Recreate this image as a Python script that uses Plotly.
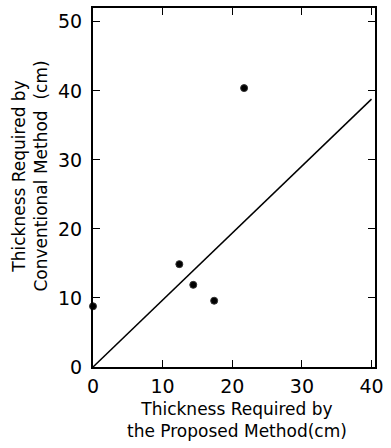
import plotly.graph_objects as go

# Data points (Proposed, Conventional)
proposed = [0, 12.4, 14.4, 17.4, 21.7]
conventional = [8.8, 14.9, 11.9, 9.6, 40.4]

# Reference line
line_x = [0, 40]
line_y = [0, 38.8]

x_ticks = [0, 10, 20, 30, 40]
y_ticks = [0, 10, 20, 30, 40, 50]

fig = go.Figure()
fig.add_trace(go.Scatter(x=line_x, y=line_y, mode="lines",
                         line=dict(color="black", width=1.5), showlegend=False,
                         cliponaxis=False))
fig.add_trace(go.Scatter(x=proposed, y=conventional, mode="markers",
                         marker=dict(color="black", size=7,
                                     line=dict(color="#333", width=1)),
                         showlegend=False, cliponaxis=False))

font = "DejaVu Sans"
fig.update_layout(
    width=391, height=448,
    margin=dict(l=93, r=16, t=6, b=81),
    paper_bgcolor="white", plot_bgcolor="white",
    font=dict(family=font, color="black"),
    xaxis=dict(range=[0, 40.5], tickvals=x_ticks, ticks="inside", ticklen=7,
               tickwidth=1.2, tickcolor="black", showgrid=False, zeroline=False,
               showline=True, linecolor="black", linewidth=2, mirror="ticks",
               tickfont=dict(size=19, family=font), ticklabelstandoff=1),
    yaxis=dict(range=[0, 52], tickvals=y_ticks, ticks="inside", ticklen=7,
               tickwidth=1.2, tickcolor="black", showgrid=False, zeroline=False,
               showline=True, linecolor="black", linewidth=2, mirror="ticks",
               tickfont=dict(size=19, family=font), ticklabelstandoff=5),
    annotations=[
        dict(text="Thickness Required by<br>the Proposed Method(cm)",
             xref="paper", yref="paper", x=0.51, y=-0.083, xanchor="center",
             yanchor="top", showarrow=False, font=dict(size=17, family=font),
             align="center"),
        dict(text="Thickness Required by<br>Conventional Method  (cm)",
             xref="paper", yref="paper", x=-0.225, y=0.532, xanchor="center",
             yanchor="middle", showarrow=False, textangle=-90,
             font=dict(size=17, family=font), align="center"),
    ],
)

fig.write_html("out.html", config={"displayModeBar": False},
               post_script="document.body.style.margin='0';")
